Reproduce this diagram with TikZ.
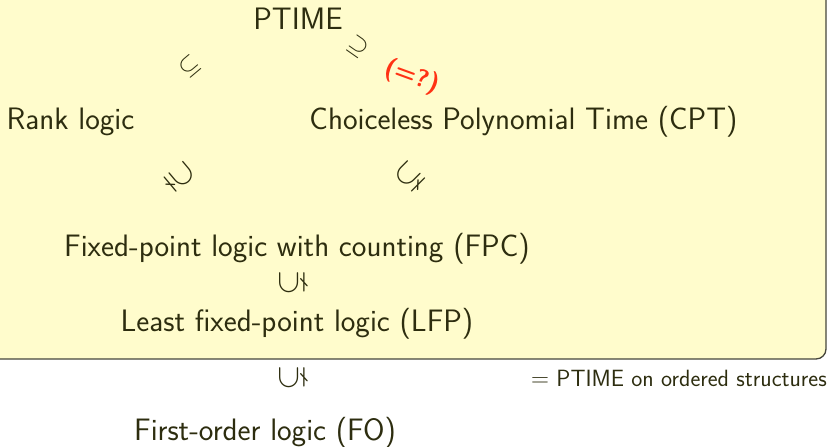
\documentclass[tikz,border=0pt]{standalone}
\usepackage{amssymb}
\definecolor{txt}{RGB}{45,45,15}
\definecolor{boxfill}{RGB}{255,252,204}
\definecolor{boxline}{RGB}{70,70,60}
\definecolor{alert}{RGB}{255,50,20}
\tikzset{
  lab/.style={anchor=base, inner sep=0pt, text=txt, font=\sffamily\fontsize{31}{36}\selectfont},
  rel/.style={inner sep=0pt, text=txt, font=\fontsize{33}{38}\selectfont},
  note/.style={anchor=base east, inner sep=0pt, text=txt, font=\sffamily\fontsize{23.5}{28}\selectfont}
}
\begin{document}
\begin{tikzpicture}[x=1pt,y=-1pt]
\useasboundingbox (0,0) rectangle (828,447);
\draw[boxline, line width=1.3pt, fill=boxfill, rounded corners=10pt] (-30,-30) rectangle (826,359);
% logics
\node[lab] (ptime) at (298,30) {PTIME};
\node[lab] (rank) at (70.5,129) {Rank logic};
\node[lab] (cpt) at (523.5,129) {Choiceless Polynomial Time (CPT)};
\node[lab] (fpc) at (297,256) {Fixed-point logic with counting (FPC)};
\node[lab] (lfp) at (297,331) {Least fixed-point logic (LFP)};
\node[lab] (fo) at (265,440) {First-order logic (FO)};
% relations
\node[rel, rotate=40] (r1) at (190,67) {$\subseteq$};
\node[rel, rotate=-35] (r2) at (358,47) {$\supseteq$};
\node[inner sep=0pt, text=alert, rotate=-20, font=\sffamily\bfseries\fontsize{25}{30}\selectfont] (q) at (412,77) {(=?)};
\node[rel, rotate=-50] (r3) at (180,177) {$\supsetneq$};
\node[rel, rotate=45] (r4) at (410,177) {$\subsetneq$};
\node[rel, rotate=90] (r5) at (292,283) {$\subsetneq$};
\node[rel, rotate=90] (r6) at (292,378) {$\subsetneq$};
\node[note] (ord) at (827,386) {$=$ PTIME on ordered structures};
\end{tikzpicture}
\end{document}
